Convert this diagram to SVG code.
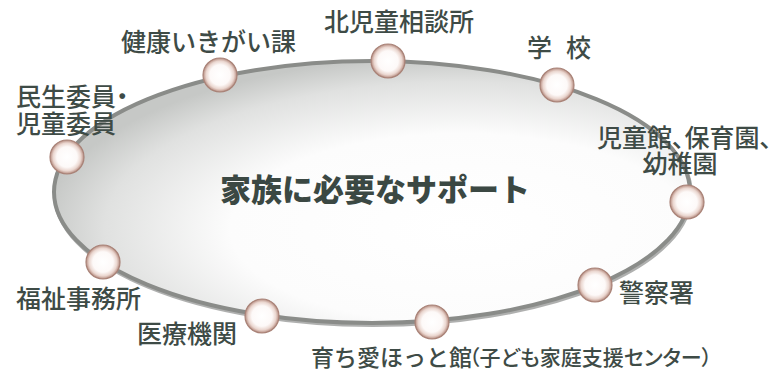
<svg xmlns="http://www.w3.org/2000/svg" width="779" height="372" viewBox="0 0 779 372">
<style>
.lbl{font-family:"Noto Sans CJK JP","Noto Sans",sans-serif;font-size:25px;fill:#3e4b46;font-weight:500}
.palt{font-feature-settings:"palt" 1}
.title{font-family:"Noto Sans CJK JP","Noto Sans",sans-serif;font-size:31px;font-weight:900;fill:#3b4843}
.node{fill:url(#ng);stroke:#a98378;stroke-width:1.2}
</style>
<defs>
<radialGradient id="eg" cx="0.64" cy="0.64" r="0.66">
<stop offset="0" stop-color="#ffffff"/>
<stop offset="0.55" stop-color="#fcfcfc"/>
<stop offset="0.85" stop-color="#e0e1e0"/>
<stop offset="1" stop-color="#c6c8c6"/>
</radialGradient>
<radialGradient id="ng" cx="0.5" cy="0.5" r="0.5">
<stop offset="0" stop-color="#ffffff"/>
<stop offset="0.6" stop-color="#fdf9f8"/>
<stop offset="0.82" stop-color="#ead6cf"/>
<stop offset="1" stop-color="#b48a7e"/>
</radialGradient>
</defs>
<rect width="779" height="372" fill="#ffffff"/>
<g id="ring">
<ellipse cx="373" cy="194" rx="318" ry="131" fill="none" stroke="#7a7c79" stroke-width="4" opacity="0.6"/>
<ellipse cx="372" cy="192" rx="318" ry="131" fill="url(#eg)" stroke="#8a8c89" stroke-width="4"/>
</g>
<g id="center">
<text class="title" x="375" y="201" text-anchor="middle">家族に必要なサポート</text>
</g>
<g id="n-kenko"><circle class="node" cx="220" cy="75" r="17"/><text class="lbl" x="121" y="51">健康いきがい課</text></g>
<g id="n-kita"><circle class="node" cx="388" cy="61" r="17"/><text class="lbl" x="324" y="31">北児童相談所</text></g>
<g id="n-gakko"><circle class="node" cx="557" cy="85" r="17"/><text class="lbl" x="527" y="57">学<tspan x="566">校</tspan></text></g>
<g id="n-jidokan"><circle class="node" cx="687" cy="202" r="17"/><text class="lbl palt" x="597" y="147">児童館、保育園、</text><text class="lbl" x="680" y="173" text-anchor="middle">幼稚園</text></g>
<g id="n-keisatsu"><circle class="node" cx="595" cy="285" r="17"/><text class="lbl" x="619" y="302">警察署</text></g>
<g id="n-sodachi"><circle class="node" cx="432" cy="322" r="17"/><text class="lbl" x="311" y="366" style="font-size:23px">育ち愛ほっと館</text><text class="lbl palt" x="469" y="365" style="font-size:21px">（子ども家庭支援センター）</text></g>
<g id="n-iryo"><circle class="node" cx="262" cy="316" r="17"/><text class="lbl" x="137" y="343">医療機関</text></g>
<g id="n-fukushi"><circle class="node" cx="103" cy="262" r="17"/><text class="lbl" x="16" y="308">福祉事務所</text></g>
<g id="n-minsei"><circle class="node" cx="67" cy="157" r="17"/><text class="lbl palt" x="16" y="106">民生委員・</text><text class="lbl" x="16" y="133">児童委員</text></g>
<g id="connectors"></g>
</svg>
